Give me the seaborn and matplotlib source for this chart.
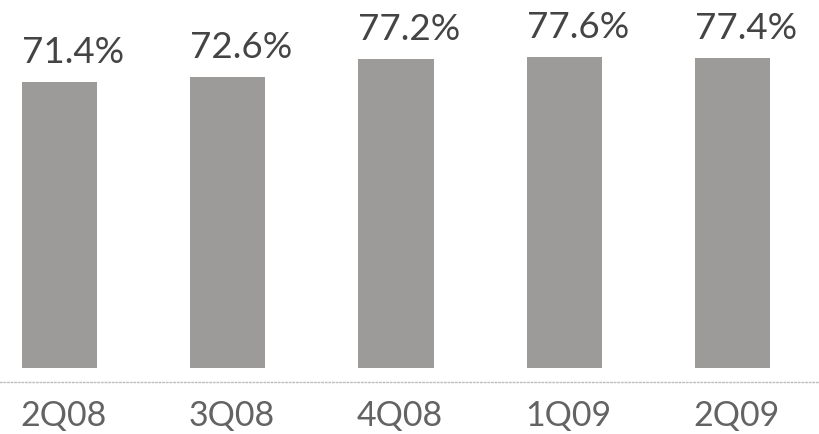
import matplotlib
matplotlib.use("Agg")
import matplotlib.pyplot as plt
import matplotlib.transforms as mtransforms
import seaborn as sns
import pandas as pd

quarters = ["2Q08", "3Q08", "4Q08", "1Q09", "2Q09"]
ratio = [71.4, 72.6, 77.2, 77.6, 77.4]
labels = ["71.4%", "72.6%", "77.2%", "77.6%", "77.4%"]

df = pd.DataFrame({"quarter": quarters, "ratio": ratio})

sns.set_theme(style="white")
plt.rcParams["font.family"] = ["Lato", "DejaVu Sans"]

fig = plt.figure(figsize=(8.2, 4.34), dpi=100)
ax = fig.add_axes([0, 52 / 434, 1, 382 / 434])

bar_w = 0.446
sns.barplot(data=df, x="quarter", y="ratio", color="#9d9a9a", width=bar_w,
            saturation=1, ax=ax, edgecolor="none")

ax.set_xlim(-0.3536, 4.520)
ax.set_ylim(-3.6, 91.9)

for i, (v, lab) in enumerate(zip(ratio, labels)):
    ax.annotate(lab, xy=(i - bar_w / 2, v), xytext=(0, 13.5),
                textcoords="offset points", ha="left", va="baseline",
                fontsize=26.5, color="#444444")

for s in ["top", "left", "right"]:
    ax.spines[s].set_visible(False)
ax.spines["bottom"].set_color("#bdbdbd")
ax.spines["bottom"].set_linewidth(1.0)
ax.spines["bottom"].set_linestyle((0, (1, 1.6)))

ax.set_yticks([])
ax.set_xlabel("")
ax.set_ylabel("")
ax.tick_params(axis="x", length=0, pad=13, labelsize=24.5, labelcolor="#636363")
shift = mtransforms.ScaledTranslation(4 / 100, 0, fig.dpi_scale_trans)
for t in ax.get_xticklabels():
    t.set_transform(t.get_transform() + shift)

fig.savefig("out.png", dpi=100)
